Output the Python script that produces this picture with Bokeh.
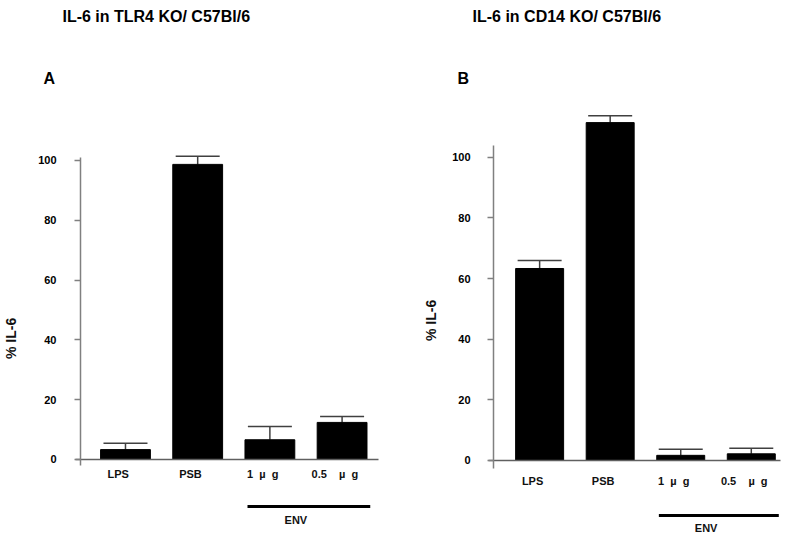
from bokeh.plotting import figure
from bokeh.models import Range1d, LinearAxis, FixedTicker, ColumnDataSource, Whisker, TeeHead, Label
from bokeh.layouts import row
from bokeh.embed import file_html
from bokeh.resources import INLINE
from bokeh.core.properties import value

# ---------------- data ----------------
NB = "\u00a0"
categories = ["LPS", "PSB", "1" + NB + NB + "µ" + NB + NB + "g", "0.5" + NB * 4 + "µ" + NB + NB + "g"]
y_ticks = [0, 20, 40, 60, 80, 100]
y_label = "% IL-6"
group_label = "ENV"
group_members = [2, 3]

title_a = "IL-6 in TLR4 KO/ C57Bl/6"
values_a = [3.3, 98.7, 6.6, 12.4]
errors_a = [2.1, 2.7, 4.4, 2.0]

title_b = "IL-6 in CD14 KO/ C57Bl/6"
values_b = [63.3, 111.4, 1.7, 2.2]
errors_b = [2.6, 2.3, 2.0, 1.8]

FONT = "Liberation Sans"
H = 537
LABEL_SHIFT = -0.1


def make_panel(title, letter, vals, errs, g):
    p = figure(width=g["width"], height=H,
               x_range=Range1d(*g["xr"]), y_range=Range1d(*g["yr"]),
               x_axis_type=None, y_axis_type=None,
               toolbar_location=None, output_backend="svg",
               min_border_left=0, min_border_right=0,
               min_border_top=0, min_border_bottom=0,
               outline_line_color=None,
               background_fill_color="white", border_fill_color="white")

    xs = list(range(len(categories)))
    src = ColumnDataSource(dict(
        x=xs, top=vals,
        upper=[v + e for v, e in zip(vals, errs)],
    ))
    p.vbar(x="x", top="top", bottom=0, width=g["bar_w"], source=src,
           fill_color="black", line_color="black")
    p.add_layout(Whisker(source=src, base="x", lower="top", upper="upper",
                         line_color="#404040", line_width=1.5,
                         lower_head=None,
                         upper_head=TeeHead(size=44, line_color="#404040", line_width=1.5)))

    yaxis = LinearAxis(fixed_location=g["yaxis_at"],
                       ticker=FixedTicker(ticks=y_ticks), bounds=g["ybounds"],
                       axis_line_color="#808080", axis_line_width=1.5,
                       major_tick_line_color="#808080", major_tick_line_width=1.5,
                       major_tick_in=0, major_tick_out=6,
                       minor_tick_line_color=None,
                       major_label_standoff=g["ystandoff"],
                       major_label_text_font=FONT, major_label_text_font_style="bold",
                       major_label_text_font_size="11px", major_label_text_color="black")
    p.add_layout(yaxis, "left")

    ticks = [i + LABEL_SHIFT for i in xs]
    xaxis = LinearAxis(fixed_location=0, ticker=FixedTicker(ticks=ticks),
                       major_label_overrides={t: c for t, c in zip(ticks, categories)},
                       bounds=g["xbounds"],
                       axis_line_color="#606060", axis_line_width=1.5,
                       major_tick_line_color=None, minor_tick_line_color=None,
                       major_label_standoff=g["xstandoff"],
                       major_label_text_font=FONT, major_label_text_font_style="bold",
                       major_label_text_font_size="11px", major_label_text_color="#111111")
    p.add_layout(xaxis, "below")

    # ENV bracket line under the two ENV doses
    x0 = group_members[0] - 0.31
    x1 = group_members[-1] + 0.39
    p.segment(x0=[x0], x1=[x1], y0=[g["env_y"]], y1=[g["env_y"]],
              line_color="black", line_width=3)
    p.text(x=[(group_members[0] + group_members[-1]) / 2 - 0.14], y=[g["env_ty"]],
           text=[group_label], text_font=value(FONT), text_font_style="bold",
           text_font_size="11px", text_align="center", text_baseline="middle",
           text_color="#111111")

    p.add_layout(Label(x=g["title_xy"][0], y=g["title_xy"][1], text=title,
                       text_font=FONT, text_font_style="bold", text_font_size="16px",
                       text_align="left", text_baseline="alphabetic", text_color="black"))
    p.add_layout(Label(x=g["letter_xy"][0], y=g["letter_xy"][1], text=letter,
                       text_font=FONT, text_font_style="bold", text_font_size="16px",
                       text_align="left", text_baseline="alphabetic", text_color="black"))
    p.add_layout(Label(x=g["ylab_xy"][0], y=g["ylab_xy"][1], text=y_label,
                       angle=1.5707963, text_font=FONT, text_font_style="bold",
                       text_font_size="14px",
                       text_align="center", text_baseline="middle", text_color="#111111"))
    return p


geo_a = dict(width=400, xr=(-1.731, 3.809), yr=(-26.09, 153.51), yaxis_at=-0.623,
             bar_w=0.69, xbounds=(-0.69, 3.50), ybounds=(-2.0, 101.0),
             ystandoff=18, xstandoff=3, env_y=-15.7, env_ty=-20.4,
             title_xy=(-0.873, 148.2), letter_xy=(-1.136, 127.4), ylab_xy=(-1.579, 40.5))
geo_b = dict(width=385, xr=(-1.972, 3.485), yr=(-25.39, 151.66), yaxis_at=-0.653,
             bar_w=0.68, xbounds=(-0.73, 3.42), ybounds=(-2.6, 103.9),
             ystandoff=17, xstandoff=9, env_y=-18.1, env_ty=-22.4,
             title_xy=(-0.951, 146.4), letter_xy=(-1.164, 125.9), ylab_xy=(-1.546, 46.2))

pa = make_panel(title_a, "A", values_a, errors_a, geo_a)
pb = make_panel(title_b, "B", values_b, errors_b, geo_b)

layout = row(pa, pb)
open("out.html", "w").write(file_html(layout, INLINE))
